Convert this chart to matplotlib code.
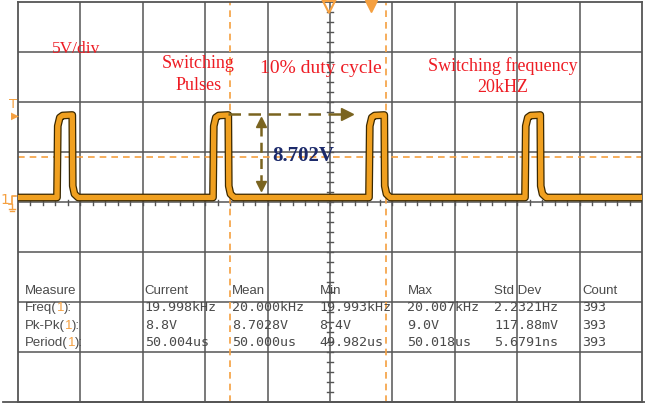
import numpy as np
import matplotlib
matplotlib.use('Agg')
import matplotlib.pyplot as plt

# 示波器截图: 20us/div, 5V/div
pulse_on = [12.5, 62.5, 112.5, 162.5]      # 上升沿时刻 (us)
edge_dt = [0.0, 0.25, 0.9, 1.8, 4.9, 5.05, 5.6, 6.8]   # 单个脉冲内的采样时刻
edge_v = [0.45, 7.6, 8.45, 8.65, 8.7, 1.6, 0.8, 0.45]  # 对应电压 (V)
v_low = 0.45
cursor_t = [67.8, 117.8]     # 垂直光标
trig_v = 4.5                 # 水平光标

meas_cols = ['Current', 'Mean', 'Min', 'Max', 'Std Dev', 'Count']
meas_rows = ['Freq', 'Pk-Pk', 'Period']
meas_vals = [
    ['19.998kHz', '20.000kHz', '19.993kHz', '20.007kHz', '2.2321Hz', '393'],
    ['8.8V', '8.7028V', '8.4V', '9.0V', '117.88mV', '393'],
    ['50.004us', '50.000us', '49.982us', '50.018us', '5.6791ns', '393'],
]

# 拼出波形
t = [0.0]
v = [v_low]
for p in pulse_on:
    for dt, vv in zip(edge_dt, edge_v):
        t.append(p + dt)
        v.append(vv)
t.append(200.0)
v.append(v_low)

W, H = 645, 406
fig = plt.figure(figsize=(W / 100, H / 100), dpi=100)
x0, x1, y0, y1 = 18, 642, 3, 403
ax = fig.add_axes([x0 / W, 1 - y1 / H, (x1 - x0) / W, (y1 - y0) / H])
ax.set_xlim(0, 200)
ax.set_ylim(-20, 20)
ax.set_xticks([])
ax.set_yticks([])
for s in ax.spines.values():
    s.set_color('#555555')
    s.set_linewidth(1.3)

gc = '#555555'
for gx in range(20, 200, 20):
    ax.axvline(gx, color=gc, lw=1.1, zorder=1)
for gy in range(-15, 20, 5):
    ax.axhline(gy, color=gc, lw=1.1, zorder=1)

# 中心刻度
for tx in np.arange(4, 200, 4):
    ax.plot([tx, tx], [-0.25, 0.25], color=gc, lw=1.0, zorder=1)
for ty in np.arange(-19, 20, 1):
    ax.plot([99.0, 101.0], [ty, ty], color=gc, lw=1.0, zorder=1)

# 光标
oc = '#f5a040'
for ct in cursor_t:
    ax.axvline(ct, color=oc, lw=1.2, ls=(0, (4, 3)), zorder=2)
ax.axhline(trig_v, color=oc, lw=1.2, ls=(0, (4, 3)), zorder=2)

# 波形
ax.plot(t, v, color='#3a2800', lw=5.6, solid_joinstyle='round', zorder=3)
ax.plot(t, v, color='#f0a020', lw=3.8, solid_joinstyle='round', zorder=4)

# 测量箭头
bc = '#7a6420'
ax.plot([67.2, 103.5], [8.8, 8.8], color=bc, lw=1.8, ls=(0, (5, 3)), zorder=5)
ax.plot([105.5], [8.8], marker='>', color=bc, ms=8, zorder=5)
ax.plot([78.0, 78.0], [7.6, 2.0], color=bc, lw=1.8, ls=(0, (4, 2.5)), zorder=5)
ax.plot([78.0], [8.0], marker='^', color=bc, ms=7, zorder=5)
ax.plot([78.0], [1.6], marker='v', color=bc, ms=7, zorder=5)
ax.text(81.5, 4.7, '8.702V', color='#1c2a6a', fontsize=15, fontweight='bold',
        family='Liberation Serif', ha='left', va='center', zorder=6)

# 红色注释
rc = '#ee1c24'
rt = dict(color=rc, family='Liberation Serif', ha='center', va='center', zorder=6)
ax.text(10.9, 15.4, '5V/div', fontsize=12.5, **dict(rt, ha='left'))
ax.text(57.9, 13.9, 'Switching', fontsize=13, **rt)
ax.text(57.9, 11.7, 'Pulses', fontsize=13, **rt)
ax.text(97.1, 13.4, '10% duty cycle', fontsize=14, **rt)
ax.text(155.5, 13.7, 'Switching frequency', fontsize=13, **rt)
ax.text(155.5, 11.5, '20kHZ', fontsize=13, **rt)

# 测量表格
tc = '#4a4a4a'
col_x = [40.6, 68.5, 96.6, 124.8, 152.6, 180.8]
row_y = [-10.5, -12.3, -14.0]
ax.text(2.2, -8.8, 'Measure', color=tc, fontsize=9.5, family='Liberation Sans',
        va='center', zorder=6)
for cx, name in zip(col_x, meas_cols):
    ax.text(cx, -8.8, name, color=tc, fontsize=9.5, family='Liberation Sans',
            va='center', zorder=6)
for ry, name, vals in zip(row_y, meas_rows, meas_vals):
    tx = ax.text(2.2, ry, name + '(', color=tc, fontsize=9.5, family='Liberation Sans',
                 va='center', zorder=6)
    tx = ax.annotate('1', xycoords=tx, xy=(1, 0.5), va='center', color=oc,
                     fontsize=9.5, family='Liberation Sans', zorder=6)
    ax.annotate('):', xycoords=tx, xy=(1, 0.5), va='center', color=tc,
                fontsize=9.5, family='Liberation Sans', zorder=6)
    for cx, val in zip(col_x, vals):
        ax.text(cx, ry, val, color=tc, fontsize=9.6, family='DejaVu Sans Mono',
                va='center', zorder=6)

# 边缘标记
fig.text(13 / W, 1 - 104 / H, 'T', color=oc, fontsize=9.5, ha='center', va='center')
fig.text(15 / W, 1 - 116 / H, '\u25b6', color=oc, fontsize=7.5, ha='center', va='center')
fig.text(5 / W, 1 - 200 / H, '1', color=oc, fontsize=10, ha='center', va='center')
fig.add_artist(plt.Line2D(np.array([9, 12, 12, 16]) / W,
                          1 - np.array([205, 205, 197, 197]) / H, color=oc, lw=1.2))
fig.add_artist(plt.Line2D(np.array([12, 12]) / W, 1 - np.array([205, 210]) / H, color=oc, lw=1.0))
fig.add_artist(plt.Line2D(np.array([9, 15]) / W, 1 - np.array([210, 210]) / H, color=oc, lw=1.0))
fig.add_artist(plt.Line2D(np.array([10, 14]) / W, 1 - np.array([212, 212]) / H, color=oc, lw=1.0))
ax.plot([99.8], [19.5], marker='v', mfc='none', mec=oc, ms=8, mew=1.5, clip_on=False, zorder=6)
ax.plot([113.3], [19.6], marker='v', color=oc, ms=8, clip_on=False, zorder=6)
fig.add_artist(plt.Line2D([3 / W, 1], [1 - 403 / H, 1 - 403 / H], color='#555555', lw=1.3))

fig.savefig('out.png', dpi=100)
